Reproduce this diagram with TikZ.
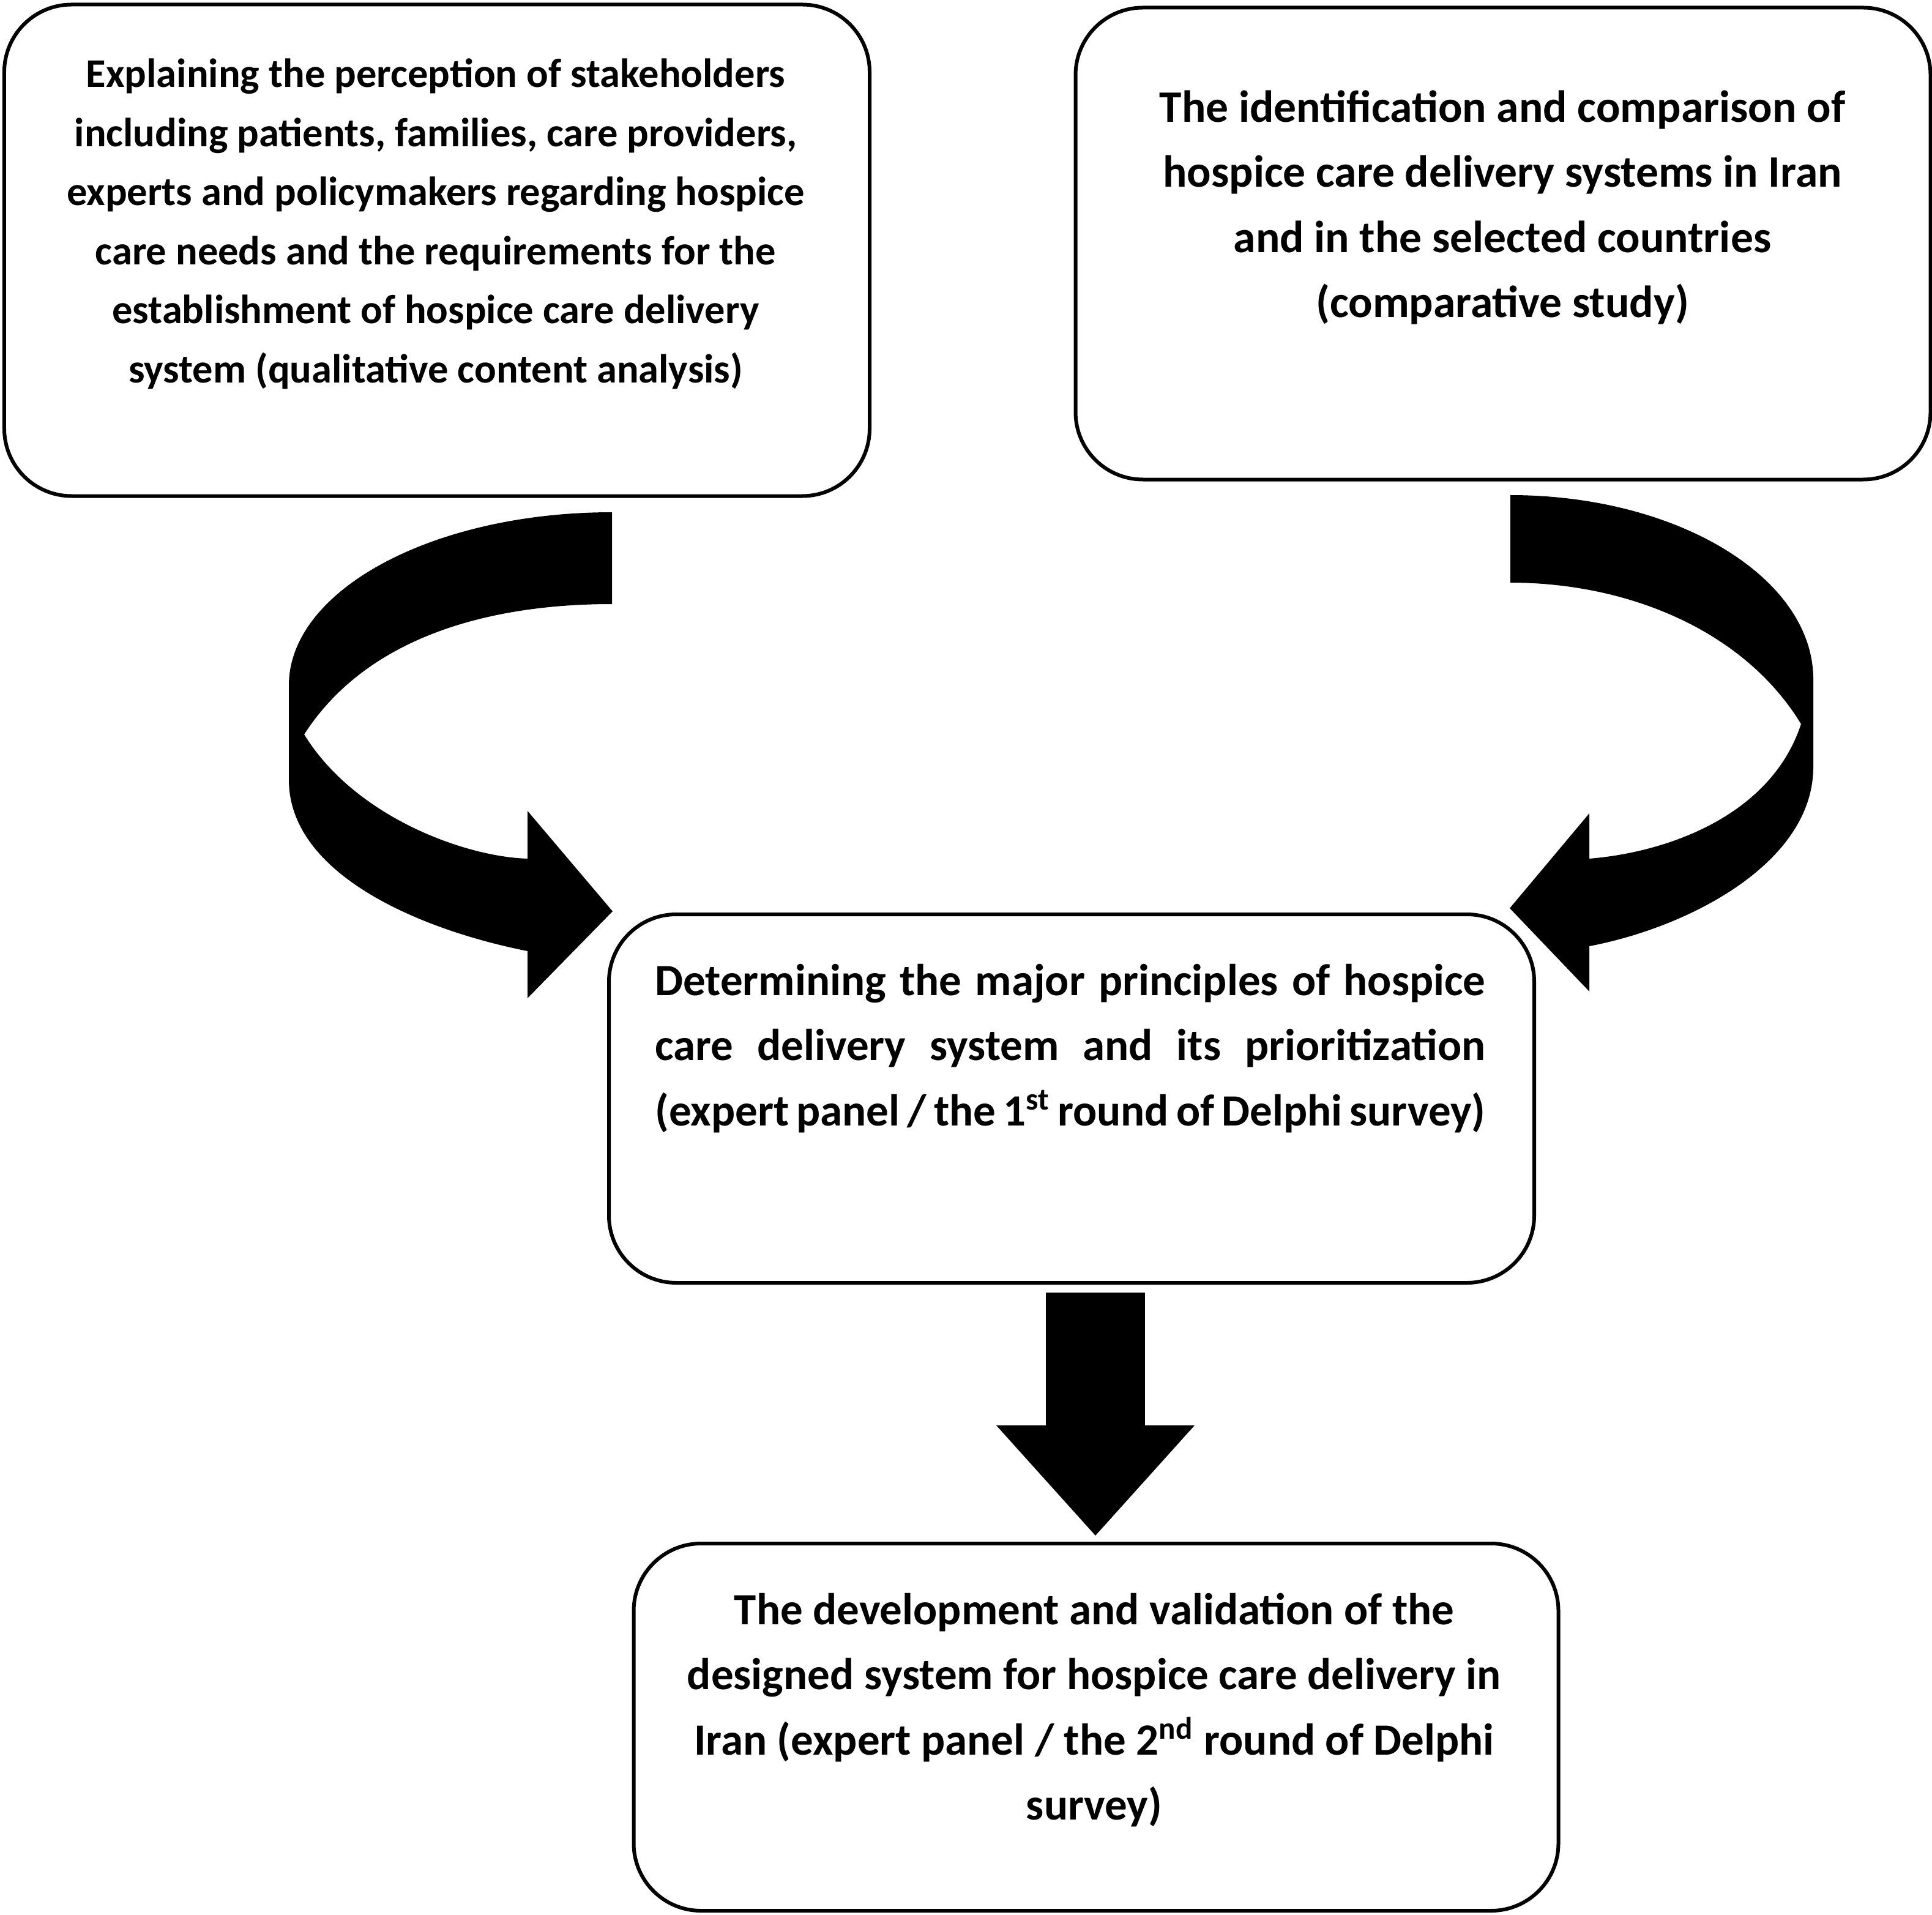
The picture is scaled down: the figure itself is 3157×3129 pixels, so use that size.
\documentclass[tikz,border=0pt]{standalone}
\usepackage{fontspec}
\setmainfont{Carlito}
\usetikzlibrary{arrows.meta}

\tikzset{
  box/.style={draw, line width=1.2pt, rounded corners=22pt, inner sep=0pt},
  boxtext/.style={align=center, inner sep=0pt, font=\bfseries\fontsize{14.6}{21.3}\selectfont},
  bigarrow/.style={line width=32.4pt, -{Triangle[width=64.8pt, length=36pt, line width=0pt]}},
}

\begin{document}
\begin{tikzpicture}[x=0.2pt,y=0.2pt,yscale=-1]
\useasboundingbox (0,0) rectangle (3157,3129);

% Box
\node[box, minimum width=282.8pt, minimum height=160.6pt] (perception) at (714,409) {};
\node[boxtext, font=\bfseries\fontsize{13.3}{19.3}\selectfont] (perceptiontext) at (712,366) {Explaining the perception of stakeholders\\
including patients, families, care providers,\\
experts and policymakers regarding hospice\\
care needs and the requirements for the\\
establishment of hospice care delivery\\
system (qualitative content analysis)};

% Box
\node[box, minimum width=279.4pt, minimum height=154.2pt] (comparison) at (2456,398) {};
\node[boxtext, font=\bfseries\fontsize{14.7}{21.3}\selectfont] (comparisontext) at (2455,339) {The identification and comparison of\\
hospice care delivery systems in Iran\\
and in the selected countries\\
(comparative study)};

% Box
\node[box, minimum width=302.4pt, minimum height=120.4pt] (principles) at (1751,1795) {};
\node[boxtext, text width=271.4pt] (principlestext) at (1749,1713) {\spaceskip=0.226em plus 3em minus 0.2em\relax
\makebox[271.4pt][s]{Determining the major principles of hospice}\\
\makebox[271.4pt][s]{care delivery system and its prioritization}\\
\makebox[271.4pt][s]{(expert panel / the 1\textsuperscript{st} round of Delphi survey)}};

% Box
\node[box, minimum width=302.2pt, minimum height=120pt] (validation) at (1791,2822) {};
\node[boxtext] (validationtext) at (1788,2794) {The development and validation of the\\
designed system for hospice care delivery in\\
Iran (expert panel / the 2\textsuperscript{nd} round of Delphi\\
survey)};

% Curved arrow, left
\fill (1000,837) .. controls (708,837) and (472,964) .. (472,1120) -- (472,1274)
  .. controls (472,1430) and (690,1520) .. (862,1554) -- (862,1631) -- (1001,1489)
  -- (862,1325) -- (862,1403) .. controls (760,1400) and (580,1335) .. (497,1200)
  .. controls (600,1040) and (800,987) .. (1000,987) -- cycle;

% Curved arrow, right
\fill (2468,809) .. controls (2741,809) and (2963,944) .. (2963,1110) -- (2963,1253)
  .. controls (2963,1410) and (2760,1515) .. (2597,1546) -- (2597,1620) -- (2467,1484)
  -- (2597,1329) -- (2597,1403) .. controls (2730,1392) and (2895,1330) .. (2943,1183)
  .. controls (2850,1030) and (2660,952) .. (2468,952) -- cycle;

% Connection
\coordinate (axis) at (1790,0);
\draw[bigarrow, shorten <=2.6pt, shorten >=2pt] (principles.south -| axis) -- (validation.north -| axis);

\end{tikzpicture}
\end{document}
